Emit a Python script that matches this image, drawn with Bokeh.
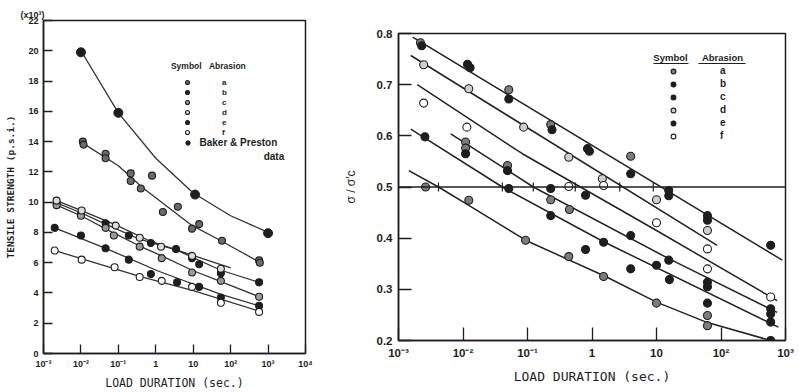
import numpy as np
from bokeh.plotting import figure
from bokeh.layouts import row, column
from bokeh.models import (Span, Label, Legend, LegendItem, FixedTicker,
                          BoxAnnotation, Range1d, Spacer)
from bokeh.embed import file_html
from bokeh.resources import INLINE

# ---------------- LEFT PANEL: tensile strength (x10^3 psi) vs log10 load duration (s)
left_x_ticks_log = [-3, -2, -1, 0, 1, 2, 3, 4]
left_x_tick_labels = ["10⁻³", "10⁻²", "10⁻¹", "1", "10", "10²", "10³", "10⁴"]
left_y_ticks = [0, 2, 4, 6, 8, 10, 12, 14, 16, 18, 20, 22]

baker_log_t = [-2.0, -1.0, 1.05, 3.0]
baker_strength = [19.9, 15.9, 10.5, 7.95]
baker_curve_log_t = [-2.0, -1.0, 0.0, 1.0, 2.0, 3.0]
baker_curve_strength = [20.0, 15.9, 12.9, 10.6, 9.1, 8.0]

la_log_t = [-1.95, -1.93, -1.34, -1.34, -0.67, -0.67, -0.4, -0.1, 0.19, 0.59, 0.97, 1.16, 1.77, 2.76, 2.78]
la_strength = [14.0, 13.8, 13.2, 12.9, 11.9, 11.4, 10.9, 11.75, 9.35, 9.7, 8.25, 8.55, 7.45, 6.15, 6.0]
la_curve_log_t = [-1.95, -1.0, -0.35, 0.94, 1.74, 2.76]
la_curve_strength = [13.9, 12.4, 10.95, 8.5, 7.45, 6.05]

lb_log_t = [-2.65, -2.0, -1.34, -0.72, -0.13, 0.54, 0.97, 1.16, 1.74, 2.76]
lb_strength = [9.95, 9.2, 8.6, 7.8, 7.3, 6.9, 6.3, 5.9, 5.3, 4.7]
lb_curve_log_t = [-2.65, -2.0, -1.34, -0.43, 0.54, 1.74, 2.76]
lb_curve_strength = [9.95, 9.3, 8.55, 7.55, 6.85, 5.5, 4.7]

lc_log_t = [-2.65, -2.0, -1.34, -1.12, -0.43, 0.16, 0.97, 1.74, 2.76]
lc_strength = [9.8, 9.1, 8.3, 7.8, 7.06, 6.3, 5.35, 4.8, 3.75]
lc_curve_log_t = [-2.65, -2.0, -1.12, -0.43, 0.16, 0.97, 1.74, 2.76]
lc_curve_strength = [9.8, 9.1, 7.95, 7.1, 6.45, 5.5, 4.75, 3.75]

ld_log_t = [-2.65, -1.98, -1.07, -0.43, 0.14, 0.97, 1.74]
ld_strength = [10.1, 9.45, 8.45, 7.65, 7.05, 6.45, 5.6]
ld_curve_log_t = [-2.65, -2.0, -1.07, -0.13, 0.97, 2.0]
ld_curve_strength = [10.1, 9.45, 8.5, 7.4, 6.5, 5.65]

le_log_t = [-2.7, -2.0, -1.34, -0.72, -0.13, 0.57, 1.16, 1.74, 2.76]
le_strength = [8.3, 7.8, 6.95, 6.2, 5.25, 4.7, 4.4, 3.7, 3.15]
le_curve_log_t = [-2.7, -1.34, 0.06, 1.74, 2.76]
le_curve_strength = [8.3, 6.95, 5.45, 3.9, 3.15]

lf_log_t = [-2.7, -1.98, -1.1, -0.43, 0.16, 0.97, 1.74, 2.76]
lf_strength = [6.8, 6.2, 5.7, 5.05, 4.8, 4.4, 3.35, 2.75]
lf_curve_log_t = [-2.7, -0.43, 1.0, 2.76]
lf_curve_strength = [6.8, 5.1, 4.15, 2.8]

# ---------------- RIGHT PANEL: sigma / sigma'c vs log10 load duration (s)
right_x_ticks_log = [-3, -2, -1, 0, 1, 2, 3]
right_x_tick_labels = ["10⁻³", "10⁻²", "10⁻¹", "1", "10", "10²", "10³"]
right_y_ticks = [0.2, 0.3, 0.4, 0.5, 0.6, 0.7, 0.8]

ra_log_t = [-2.58, -1.91, -1.03, -0.36, 0.18, 1.0, 1.79, 1.79, -2.66, -1.29, -0.64, 0.6]
ra_ratio = [0.5, 0.474, 0.396, 0.364, 0.325, 0.273, 0.249, 0.229, 0.782, 0.69, 0.622, 0.56]
rb_log_t = [-2.64, -1.93, -1.89, -1.29, -0.62, -0.07, -0.04, 0.6, 1.19, 1.19, 1.79, 1.79, 2.77, -0.1]
rb_ratio = [0.776, 0.74, 0.733, 0.672, 0.612, 0.575, 0.57, 0.526, 0.493, 0.483, 0.444, 0.435, 0.386, 0.484]
rc_log_t = [-1.96, -1.31, -0.64, 0.6, 1.19, 1.79, 1.79, 2.77, 2.77]
rc_ratio = [0.565, 0.532, 0.497, 0.405, 0.357, 0.314, 0.305, 0.262, 0.252]
rc_half_log_t = [-1.96, -1.96, -1.31, -0.64, -0.35]
rc_half_ratio = [0.588, 0.576, 0.542, 0.475, 0.456]
rd_log_t = [-2.61, -1.91, -1.06, -0.36, 0.16, 1.0, 1.79]
rd_ratio = [0.739, 0.692, 0.617, 0.558, 0.516, 0.475, 0.415]
re_log_t = [-2.59, -1.29, -0.64, 0.18, 1.0, 1.2, 1.79, 2.77, -0.1, 0.6, 2.77]
re_ratio = [0.598, 0.497, 0.444, 0.392, 0.347, 0.319, 0.273, 0.236, 0.378, 0.34, 0.2]
rf_log_t = [-2.61, -1.94, -0.36, 0.18, 1.0, 1.79, 1.79, 2.77]
rf_ratio = [0.664, 0.617, 0.501, 0.503, 0.43, 0.379, 0.34, 0.285]

r_line1_log_t = [-2.78, 2.95]
r_line1_ratio = [0.793, 0.357]
r_line2_log_t = [-2.81, 1.94]
r_line2_ratio = [0.757, 0.386]
r_line3_log_t = [-2.71, -1.08, 1.0, 2.87]
r_line3_ratio = [0.70, 0.565, 0.415, 0.278]
r_line4_log_t = [-2.19, -0.91, 1.19, 2.87]
r_line4_ratio = [0.604, 0.5, 0.36, 0.255]
r_line5_log_t = [-2.81, -1.39, 0.18, 2.89]
r_line5_ratio = [0.613, 0.5, 0.393, 0.226]
r_line6_log_t = [-2.84, -2.38, -1.91, -1.03, 0.21, 1.0, 1.79, 2.77]
r_line6_ratio = [0.532, 0.5, 0.464, 0.396, 0.325, 0.275, 0.235, 0.2]

half_line_crossings_log_t = [-2.38, -1.39, -0.91, -0.26, 0.43, 0.95]

abrasion_labels = ["a", "b", "c", "d", "e", "f"]

INK = "#1e1e1e"
TICK_FONT = "Liberation Sans"
LABEL_FONT = "DejaVu Sans Mono"


def t(v):
    return [10.0 ** x for x in v]


def style(p, tick_len, tick_size, label_size):
    p.grid.visible = False
    p.outline_line_color = INK
    p.outline_line_width = 1.5
    p.background_fill_color = "white"
    p.border_fill_color = "white"
    for ax in p.axis:
        ax.axis_line_color = INK
        ax.axis_line_width = 1.5
        ax.major_tick_in = tick_len
        ax.major_tick_out = 0
        ax.major_tick_line_color = INK
        ax.major_tick_line_width = 1.3
        ax.minor_tick_line_color = None
        ax.major_label_text_font = TICK_FONT
        ax.major_label_text_font_style = "bold"
        ax.major_label_text_font_size = tick_size
        ax.major_label_text_color = INK
        ax.axis_label_text_font = LABEL_FONT
        ax.axis_label_text_font_style = "normal"
        ax.axis_label_text_font_size = label_size
        ax.axis_label_text_color = INK


# ================= LEFT FIGURE
p1 = figure(width=330, height=392, x_axis_type="log",
            x_range=Range1d(1e-3, 1e4), y_range=Range1d(0, 22),
            output_backend="svg", toolbar_location=None,
            min_border_left=43, min_border_right=25,
            min_border_top=20, min_border_bottom=35)
p1.title.text = "(x10³)"
p1.title.align = "left"
p1.title.offset = -23
p1.title.standoff = 1
p1.title.text_font = TICK_FONT
p1.title.text_font_size = "9px"
p1.title.text_font_style = "bold"
p1.title.text_color = INK
style(p1, 9, "9px", "11.5px")
p1.xaxis.ticker = FixedTicker(ticks=t(left_x_ticks_log))
p1.xaxis.major_label_overrides = {10.0 ** k: lab for k, lab in zip(left_x_ticks_log, left_x_tick_labels)}
p1.yaxis.ticker = FixedTicker(ticks=left_y_ticks)
p1.xaxis.axis_label = "LOAD DURATION (sec.)"
p1.yaxis.axis_label = "TENSILE STRENGTH (p.s.i.)"
p1.yaxis.axis_label_text_font_size = "9.5px"
p1.yaxis.axis_label_text_font_style = "bold"
p1.xaxis.major_label_standoff = 5
p1.xaxis.axis_label_standoff = 4
p1.yaxis.major_label_standoff = 5
p1.yaxis.axis_label_standoff = 9

left_curves = [
    (baker_curve_log_t, baker_curve_strength),
    (la_curve_log_t, la_curve_strength),
    (lb_curve_log_t, lb_curve_strength),
    (lc_curve_log_t, lc_curve_strength),
    (ld_curve_log_t, ld_curve_strength),
    (le_curve_log_t, le_curve_strength),
    (lf_curve_log_t, lf_curve_strength),
]
for cx, cy in left_curves:
    p1.line(t(cx), cy, line_color="#333", line_width=1.3)

left_points = [  # (x, y, fill)
    (la_log_t, la_strength, "#6a6a6a"),
    (lb_log_t, lb_strength, INK),
    (lc_log_t, lc_strength, "#9a9a9a"),
    (ld_log_t, ld_strength, "#dcdcdc"),
    (le_log_t, le_strength, INK),
    (lf_log_t, lf_strength, "white"),
]
left_renderers = []
for px, py, fc in left_points:
    r = p1.scatter(t(px), py, size=7, marker="circle", fill_color=fc,
                   line_color=INK, line_width=1.1)
    left_renderers.append(r)
r_baker = p1.scatter(t(baker_log_t), baker_strength, size=9, marker="circle",
                     fill_color=INK, line_color=INK)

leg1 = Legend(items=[LegendItem(label=lab, renderers=[r])
                     for lab, r in zip(abrasion_labels, left_renderers)],
              location=(139, 216), glyph_width=10, glyph_height=10,
              label_height=10, label_width=5, spacing=0, padding=0, margin=0,
              label_standoff=30, background_fill_alpha=0, border_line_alpha=0,
              label_text_font=TICK_FONT, label_text_font_style="bold",
              label_text_font_size="8px", label_text_color=INK)
leg2 = Legend(items=[LegendItem(label="Baker & Preston", renderers=[r_baker])],
              location=(138.5, 205), glyph_width=11, glyph_height=11,
              label_height=11, spacing=0, padding=0, margin=0, label_standoff=7,
              background_fill_alpha=0, border_line_alpha=0,
              label_text_font=TICK_FONT, label_text_font_style="bold",
              label_text_font_size="10px", label_text_color=INK)
p1.add_layout(leg1)
p1.add_layout(leg2)

hdr = dict(text_font=TICK_FONT, text_font_style="bold", text_color=INK,
           text_baseline="middle")
p1.add_layout(Label(x=2.54, y=19.0, text="Symbol", text_font_size="8.5px", **hdr))
p1.add_layout(Label(x=26.3, y=19.0, text="Abrasion", text_font_size="8.5px", **hdr))
p1.add_layout(Label(x=2700, y=13.0, text="data", text_font_size="10px",
                    text_align="right", **hdr))

# ================= RIGHT FIGURE
p2 = figure(width=469, height=379, x_axis_type="log",
            x_range=Range1d(1e-3, 1e3), y_range=Range1d(0.2, 0.8),
            output_backend="svg", toolbar_location=None,
            min_border_left=68, min_border_right=14,
            min_border_top=20, min_border_bottom=52)
style(p2, 13, "11.5px", "13px")
p2.xaxis.ticker = FixedTicker(ticks=t(right_x_ticks_log))
p2.xaxis.major_label_overrides = {10.0 ** k: lab for k, lab in zip(right_x_ticks_log, right_x_tick_labels)}
p2.yaxis.ticker = FixedTicker(ticks=right_y_ticks)
p2.xaxis.axis_label = "LOAD DURATION (sec.)"
p2.yaxis.axis_label = "σ / σ′c"
p2.yaxis.axis_label_text_font = TICK_FONT
p2.yaxis.axis_label_text_font_size = "12px"
p2.xaxis.major_label_standoff = 6
p2.xaxis.axis_label_standoff = 7
p2.yaxis.major_label_standoff = 6
p2.yaxis.axis_label_standoff = 16

p2.add_layout(Span(location=0.5, dimension="width", line_color=INK, line_width=1.4))

right_lines = [
    (r_line1_log_t, r_line1_ratio), (r_line2_log_t, r_line2_ratio),
    (r_line3_log_t, r_line3_ratio), (r_line4_log_t, r_line4_ratio),
    (r_line5_log_t, r_line5_ratio), (r_line6_log_t, r_line6_ratio),
]
for cx, cy in right_lines:
    p2.line(t(cx), cy, line_color="#222", line_width=1.5)

p2.scatter(t(half_line_crossings_log_t), [0.5] * len(half_line_crossings_log_t),
           marker="dash", angle=np.pi / 2, size=9, line_color=INK, line_width=1.2)

right_points = [
    (ra_log_t, ra_ratio, "#7c7c7c"),
    (rb_log_t, rb_ratio, INK),
    (rc_log_t, rc_ratio, INK),
    (rd_log_t, rd_ratio, "#cfcfcf"),
    (re_log_t, re_ratio, INK),
    (rf_log_t, rf_ratio, "white"),
]
p2.scatter(t(rc_half_log_t), rc_half_ratio, size=8, fill_color="#7c7c7c",
           line_color=INK, line_width=1.1)
right_renderers = []
for px, py, fc in right_points:
    r = p2.scatter(t(px), py, size=8, marker="circle", fill_color=fc,
                   line_color=INK, line_width=1.1)
    right_renderers.append(r)

leg3 = Legend(items=[LegendItem(label=lab, renderers=[r])
                     for lab, r in zip(abrasion_labels, right_renderers)],
              location=(269, 198.5), glyph_width=12, glyph_height=12,
              label_height=12, label_width=5, spacing=1, padding=0, margin=0,
              label_standoff=41, background_fill_alpha=0, border_line_alpha=0,
              label_text_font=TICK_FONT, label_text_font_style="bold",
              label_text_font_size="10px", label_text_color=INK)
p2.add_layout(leg3)

p2.add_layout(Label(x=16.5, y=0.753, text="Symbol", text_font_size="9.5px",
                    text_align="center", **hdr))
p2.add_layout(Label(x=105.4, y=0.753, text="Abrasion", text_font_size="9.5px",
                    text_align="center", **hdr))
for lft, rgt in [(10 ** 0.953, 10 ** 1.496), (10 ** 1.651, 10 ** 2.38)]:
    p2.add_layout(BoxAnnotation(left=lft, right=rgt, top=0.7425, bottom=0.7405,
                                fill_color=INK, fill_alpha=1, line_alpha=0))

layout = row(p1, column(Spacer(width=469, height=13), p2, spacing=0), spacing=0)
open("out.html", "w").write(file_html(layout, INLINE))
